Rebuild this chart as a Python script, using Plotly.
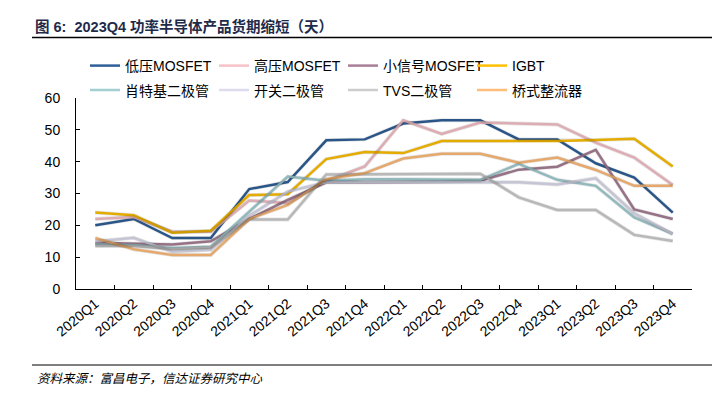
import plotly.graph_objects as go

quarters = ["2020Q1", "2020Q2", "2020Q3", "2020Q4",
            "2021Q1", "2021Q2", "2021Q3", "2021Q4",
            "2022Q1", "2022Q2", "2022Q3", "2022Q4",
            "2023Q1", "2023Q2", "2023Q3", "2023Q4"]

lv_mosfet = [20, 22, 16, 16, 31.4, 33.6, 46.7, 47, 52, 53, 53, 47, 47, 39.5, 35, 24]
hv_mosfet = [22, 22.6, 18, 18, 27.8, 27, 34, 38.5, 53, 48.7, 52.3, 52, 51.7, 46, 41.3, 32.7]
ss_mosfet = [14.5, 14.2, 14, 15, 22, 28, 33.5, 33.5, 33.5, 33.7, 34, 37.5, 38.4, 43.7, 25, 22]
igbt = [24, 23.2, 17.7, 18.3, 29.5, 29.8, 40.8, 43, 42.7, 46.5, 46.5, 46.5, 46.5, 46.8, 47.2, 38.5]
schottky = [14, 13.8, 12.9, 13.3, 24.3, 35.3, 34, 34.5, 34.5, 34.5, 34.3, 39.3, 34.3, 32.4, 22.5, 17.3]
switch_diode = [14.9, 16.1, 11.7, 12.3, 23, 30.6, 33.5, 33.5, 33.5, 33.5, 33.5, 33.5, 32.8, 34.8, 23.8, 17.3]
tvs_diode = [13.5, 13.5, 12.5, 13, 21.8, 21.8, 36, 36, 36, 36, 36.2, 28.8, 24.8, 24.8, 17, 15.1]
bridge_rect = [16, 12.5, 10.7, 10.7, 22, 26.4, 34.5, 36.4, 41, 42.5, 42.5, 39.7, 41.3, 37.4, 32.4, 32.4]

names = ["低压MOSFET", "高压MOSFET", "小信号MOSFET", "IGBT",
         "肖特基二极管", "开关二极管", "TVS二极管", "桥式整流器"]
series = [lv_mosfet, hv_mosfet, ss_mosfet, igbt, schottky, switch_diode, tvs_diode, bridge_rect]
colors = ["#2F5F98", "#F6C1C8", "#A87F96", "#FFC000",
          "#A3CFD3", "#DCDCEE", "#CDCDCD", "#FFBD7A"]

# The page body has an 8px default margin, so the figure is laid out 8px smaller
# and all reference pixel positions are shifted by that amount.
S = 8
W, H = 727 - S, 399 - S
L, R, T, B = 76 - S, 692 - S, 98 - S, 289 - S
pw, ph = R - L, B - T
off = 2.0                       # shadow offset in px
pw2, ph2 = pw + off, ph + off   # plotting region incl. shadow room

def px(x):
    """reference-screenshot x pixel -> paper coordinate"""
    return (x - S - L) / pw2

def py(y):
    """reference-screenshot y pixel -> paper coordinate"""
    return (B + off - (y - S)) / ph2

fig = go.Figure()

# soft shadows drawn on a slightly offset copy of the axes
for vals in series:
    fig.add_trace(go.Scatter(x=quarters, y=vals, mode="lines", xaxis="x2", yaxis="y2",
                             line=dict(color="rgba(0,0,0,0.10)", width=4),
                             showlegend=False, hoverinfo="skip"))

for i, (nm, vals, c) in enumerate(zip(names, series, colors)):
    fig.add_trace(go.Scatter(x=quarters, y=vals, mode="lines", name=nm,
                             line=dict(color=c, width=2.5),
                             legend="legend" if i < 4 else "legend2"))

font_latin = "Liberation Sans, Arial, Noto Sans CJK SC, sans-serif"
font_cjk = "Liberation Sans, Noto Sans CJK SC, sans-serif"

fig.update_layout(
    width=W, height=H,
    margin=dict(l=L, r=W - R - off, t=T, b=H - B - off),
    paper_bgcolor="white", plot_bgcolor="white",
    font=dict(family=font_latin, size=14, color="#000000"),
    xaxis=dict(type="category", categoryorder="array", categoryarray=quarters,
               range=[-0.5, 15.5], domain=[0, pw / pw2], anchor="y",
               showline=True, linecolor="#000000", linewidth=1,
               ticks="inside", ticklen=4, tickcolor="#000000", tickson="boundaries",
               tickangle=-40, tickfont=dict(size=14, family=font_latin),
               showgrid=False, zeroline=False),
    yaxis=dict(range=[0, 60], dtick=10, domain=[off / ph2, 1], anchor="x",
               showline=True, linecolor="#000000", linewidth=1,
               ticks="inside", ticklen=4, tickcolor="#000000",
               tickfont=dict(size=14, family=font_latin), ticklabelstandoff=12,
               showgrid=False, zeroline=False),
    xaxis2=dict(type="category", categoryorder="array", categoryarray=quarters,
                range=[-0.5, 15.5], domain=[off / pw2, 1], anchor="y2",
                overlaying="x", visible=False),
    yaxis2=dict(range=[0, 60], domain=[0, ph / ph2], anchor="x2",
                overlaying="y", visible=False),
    legend=dict(orientation="h", x=px(85), y=py(66), xanchor="left", yanchor="middle",
                entrywidth=84, font=dict(size=14, family=font_cjk), bgcolor="rgba(0,0,0,0)",
                itemwidth=30),
    legend2=dict(orientation="h", x=px(85), y=py(90.5), xanchor="left", yanchor="middle",
                 entrywidth=84, font=dict(size=14, family=font_cjk), bgcolor="rgba(0,0,0,0)",
                 itemwidth=30),
    showlegend=True,
)

# title and source
fig.add_annotation(x=px(33), y=py(26), xref="paper", yref="paper", xanchor="left", yanchor="middle",
                   text="<b>图 6:  2023Q4 功率半导体产品货期缩短（天）</b>", showarrow=False,
                   font=dict(size=14.5, color="#1E2B4A", family="Liberation Sans, Noto Sans CJK SC, sans-serif"))
fig.add_shape(type="line", xref="paper", yref="paper", x0=px(32), x1=px(712), y0=py(37.5), y1=py(37.5),
              line=dict(color="#000000", width=1.5))
fig.add_shape(type="line", xref="paper", yref="paper", x0=px(32), x1=px(712), y0=py(365), y1=py(365),
              line=dict(color="#000000", width=1.2))
fig.add_annotation(x=px(35), y=py(377), xref="paper", yref="paper", xanchor="left", yanchor="middle",
                   text="<i>资料来源：富昌电子，信达证券研究中心</i>", showarrow=False,
                   font=dict(size=12.5, color="#000000", family="Noto Sans CJK SC, sans-serif"))

fig.write_html("out.html")
